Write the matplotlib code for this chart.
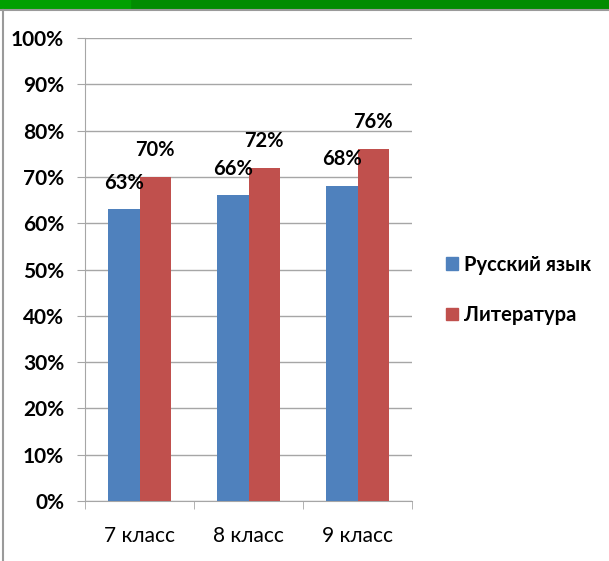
import matplotlib.pyplot as plt
from matplotlib.patches import Rectangle
import numpy as np

categories = ['7 класс', '8 класс', '9 класс']
russian = [63, 66, 68]
literature = [70, 72, 76]
series_names = ['Русский язык', 'Литература']
yticks = [0, 10, 20, 30, 40, 50, 60, 70, 80, 90, 100]

blue = '#4F81BD'
red = '#C0504D'
grid_c = '#A6A6A6'

plt.rcParams['font.family'] = ['Lato', 'DejaVu Sans']

fig = plt.figure(figsize=(6.09, 5.61), dpi=100)
fig.patch.set_facecolor('white')

# top green strip and window frame
fig.patches.append(Rectangle((0, 1 - 8 / 561), 1, 8 / 561, transform=fig.transFigure,
                             color='#008C00', zorder=0))
fig.patches.append(Rectangle((0, 1 - 8 / 561), 130 / 609, 8 / 561, transform=fig.transFigure,
                             color='#00A000', zorder=0))
fig.lines.append(plt.Line2D([0, 1], [1 - 10 / 561, 1 - 10 / 561], transform=fig.transFigure,
                            color='#9A9A9A', lw=1.5))
fig.lines.append(plt.Line2D([2.5 / 609, 2.5 / 609], [0, 1 - 10 / 561], transform=fig.transFigure,
                            color='#9A9A9A', lw=1.5))

ax = fig.add_axes([85 / 609, 1 - 501 / 561, 327 / 609, 463 / 561])
x = np.arange(len(categories))
w = 0.285
b1 = ax.bar(x - w / 2, russian, w, color=blue, zorder=3)
b2 = ax.bar(x + w / 2, literature, w, color=red, zorder=3)

for bars, vals in ((b1, russian), (b2, literature)):
    for r, v in zip(bars, vals):
        ax.annotate(f'{v}%', (r.get_x() + r.get_width() / 2, v), xytext=(0, 12),
                    textcoords='offset points', ha='center', va='bottom',
                    fontsize=14.5, fontweight='bold')

ax.set_xlim(-0.5, 2.5)
ax.set_ylim(0, 100)
ax.set_yticks(yticks)
ax.set_yticklabels([f'{t}%' for t in yticks], fontsize=15, fontweight='bold')
ax.yaxis.grid(True, color=grid_c, lw=1)
ax.set_axisbelow(True)
ax.tick_params(axis='y', length=6, color=grid_c, pad=9)

ax.set_xticks(x)
ax.set_xticklabels(categories, fontsize=15)
ax.set_xticks([-0.5, 0.5, 1.5, 2.5], minor=True)
ax.tick_params(axis='x', which='major', length=0, pad=18)
ax.tick_params(axis='x', which='minor', length=6, color=grid_c)

for s in ['top', 'right']:
    ax.spines[s].set_visible(False)
for s in ['left', 'bottom']:
    ax.spines[s].set_color(grid_c)

handles = [Rectangle((0, 0), 1, 1, color=blue), Rectangle((0, 0), 1, 1, color=red)]
fig.legend(handles, series_names, loc='center left', bbox_to_anchor=(428 / 609, 1 - 290 / 561),
           frameon=False, handlelength=0.6, handleheight=0.6, handletextpad=0.3,
           labelspacing=1.5, prop={'size': 14.5, 'weight': 'bold'})

fig.savefig('out.png', dpi=100)
